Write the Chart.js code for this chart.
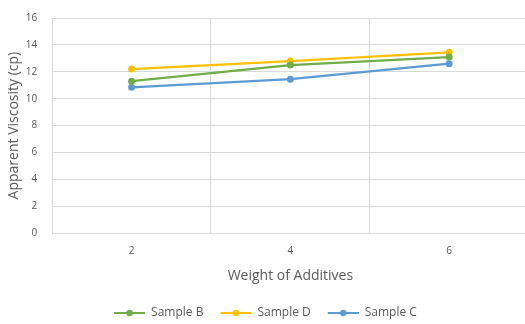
<!DOCTYPE html>
<html>
<head>
<meta charset="utf-8">
<script src="https://cdn.jsdelivr.net/npm/chart.js@4.4.1/dist/chart.umd.min.js"></script>
<style>
  html, body { margin: 0; padding: 0; background: #ffffff; overflow: hidden; }
  #wrap { width: 532px; height: 327px; margin-top: -3px; position: relative; }
</style>
</head>
<body>
<div id="wrap"><canvas id="chart"></canvas></div>
<script>
// Apparent viscosity of each sample against weight of additives
const weights = ['2', '4', '6'];
const sampleB = [11.3, 12.5, 13.1];
const sampleD = [12.2, 12.8, 13.45];
const sampleC = [10.85, 11.45, 12.6];
const yTicks = [0, 2, 4, 6, 8, 10, 12, 14, 16];

const seriesNames = ['Sample B', 'Sample D', 'Sample C'];
const seriesColors = ['#70AD47', '#FFC000', '#5B9BD5'];
const seriesValues = [sampleB, sampleD, sampleC];

const FONT = '"Open Sans", "Liberation Sans", Arial, sans-serif';
const TEXT = '#595959';
const GRID = '#d9d9d9';

// legend swatch: blank lead-in, then a short line with a round marker
function swatch(color) {
  const c = document.createElement('canvas');
  c.width = 43; c.height = 8;
  const g = c.getContext('2d');
  g.strokeStyle = color; g.lineWidth = 2;
  g.beginPath(); g.moveTo(12, 4); g.lineTo(43, 4); g.stroke();
  g.fillStyle = color;
  g.beginPath(); g.arc(27.5, 4, 3.2, 0, Math.PI * 2); g.fill();
  return c;
}

// re-centre the legend row so the blank lead-in of the swatches does not push it right
const legendShift = {
  id: 'legendShift',
  afterLayout(chart) {
    if (chart.legend) { chart.legend.left -= 6; chart.legend.right -= 6; }
  }
};

const datasets = seriesNames.map((name, i) => ({
  label: name,
  data: seriesValues[i],
  borderColor: seriesColors[i],
  backgroundColor: seriesColors[i],
  borderWidth: 2.25,
  pointRadius: 3.5,
  pointHoverRadius: 3.5,
  pointBorderWidth: 0,
  tension: 0,
  fill: false
}));

new Chart(document.getElementById('chart'), {
  type: 'line',
  data: { labels: weights, datasets },
  plugins: [legendShift],
  options: {
    responsive: true,
    maintainAspectRatio: false,
    animation: false,
    layout: { padding: { top: 2, right: 1, left: 0, bottom: -5 } },
    plugins: {
      tooltip: { enabled: false },
      legend: {
        position: 'bottom',
        labels: {
          color: TEXT,
          font: { family: FONT, size: 12 },
          usePointStyle: true,
          pointStyleWidth: 43,
          boxHeight: 8,
          padding: 5,
          generateLabels: (chart) => chart.data.datasets.map((ds, i) => ({
            text: ds.label,
            fontColor: TEXT,
            pointStyle: swatch(ds.borderColor),
            strokeStyle: ds.borderColor,
            fillStyle: ds.borderColor,
            lineWidth: 0,
            hidden: false,
            datasetIndex: i
          }))
        }
      }
    },
    scales: {
      x: {
        offset: true,
        grid: { offset: true, color: GRID, drawTicks: false },
        border: { color: GRID },
        ticks: { color: TEXT, font: { family: FONT, size: 10 }, padding: 12 },
        title: { display: true, text: 'Weight of Additives', color: TEXT, font: { family: FONT, size: 14 }, padding: { top: -2, bottom: 18 } }
      },
      y: {
        min: 0,
        max: 16,
        afterBuildTicks: (axis) => { axis.ticks = yTicks.map(v => ({ value: v })); },
        grid: { color: GRID, drawTicks: false },
        border: { color: GRID },
        ticks: { color: TEXT, font: { family: FONT, size: 10 }, padding: 15 },
        title: { display: true, text: 'Apparent Viscosity (cp)', color: TEXT, font: { family: FONT, size: 14 }, padding: { top: 6, bottom: -12 } }
      }
    }
  }
});
</script>
</body>
</html>
